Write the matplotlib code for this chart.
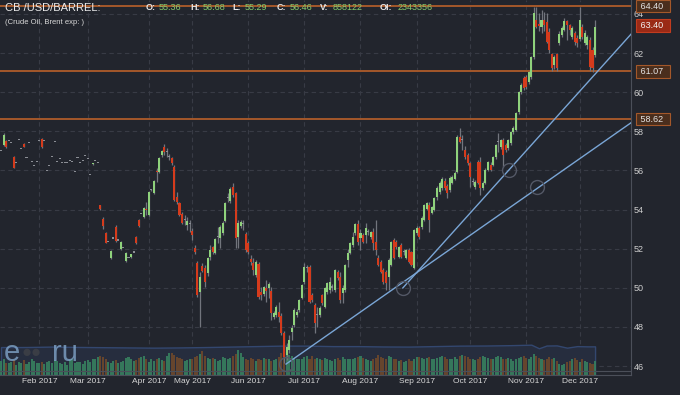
import matplotlib
matplotlib.use('Agg')
import matplotlib.pyplot as plt
import numpy as np

plt.rcParams['font.family'] = ['Liberation Sans', 'DejaVu Sans']

# daily candles, Jan..Dec 2017
opens = [
    56.99, 57.30, 57.50, 57.50, 57.40, 56.69, 56.38, 57.55, 57.09, 57.35,
    56.63, 57.40, 56.43, 56.22, 56.43, 57.50, 57.60, 57.50, 55.97, 56.22,
    56.69, 57.45, 56.43, 56.58, 56.38, 56.38, 56.38, 56.48, 56.43, 55.92,
    56.63, 56.38, 56.48, 56.74, 56.58, 55.76, 56.33, 56.48, 56.38, 54.23,
    53.50, 52.80, 52.34, 51.50, 52.50, 53.10, 52.40, 52.00, 52.03, 51.35,
    51.50, 51.55, 51.80, 52.60, 53.45, 53.75, 53.60, 54.00, 53.70, 55.00,
    54.85, 55.95, 55.92, 56.79, 57.20, 56.94, 56.69, 56.63, 56.17, 54.64,
    54.33, 53.77, 53.46, 53.21, 53.26, 52.90, 52.03, 51.27, 49.78, 51.11,
    51.00, 50.76, 51.57, 52.08, 51.78, 52.60, 52.54, 52.80, 53.41, 54.59,
    54.43, 55.15, 54.84, 52.60, 53.16, 53.26, 52.75, 52.29, 51.47, 51.27,
    50.65, 51.22, 49.78, 49.68, 49.99, 49.99, 49.83, 48.50, 48.61, 48.76,
    48.56, 47.69, 46.56, 46.82, 47.74, 48.10, 48.61, 48.86, 49.48, 50.29,
    51.00, 51.06, 49.63, 49.12, 48.61, 48.61, 49.63, 49.02, 49.78, 49.89,
    50.00, 49.89, 50.81, 50.55, 49.73, 49.89, 51.42, 51.78, 52.19, 52.80,
    53.26, 52.54, 52.70, 52.70, 52.85, 52.60, 52.85, 52.34, 51.52, 51.32,
    50.91, 50.81, 50.55, 51.16, 52.44, 52.34, 51.57, 52.19, 51.83, 51.52,
    51.93, 51.83, 51.00, 52.80, 53.05, 53.10, 53.46, 54.03, 54.23, 53.82,
    53.98, 54.64, 54.89, 55.10, 55.46, 55.20, 55.00, 55.36, 55.56, 55.92,
    57.71, 57.55, 57.04, 56.79, 56.38, 55.41, 55.15, 56.43, 56.43, 55.10,
    55.36, 56.02, 56.28, 56.28, 56.69, 57.45, 57.20, 57.55, 57.30, 57.15,
    57.40, 57.96, 58.07, 58.99, 60.01, 60.72, 60.78, 60.52, 60.77, 61.80,
    63.69, 63.50, 63.33, 63.69, 63.59, 63.08, 61.95, 61.39, 61.95, 62.52,
    62.92, 63.18, 63.64, 63.43, 62.82, 63.03, 62.77, 62.72, 63.33, 62.52,
    62.41, 62.67, 62.16, 61.90,
]
highs = [
    56.99, 57.90, 57.55, 57.50, 57.40, 56.75, 56.38, 57.55, 57.09, 57.38,
    56.63, 57.40, 56.43, 56.22, 56.43, 57.50, 57.65, 57.50, 55.97, 56.22,
    56.69, 57.45, 56.43, 56.58, 56.38, 56.38, 56.38, 56.48, 56.43, 55.92,
    56.63, 56.38, 56.48, 56.74, 56.58, 55.76, 56.40, 56.48, 56.38, 54.25,
    53.60, 52.85, 52.34, 51.95, 52.50, 53.20, 52.40, 52.40, 52.03, 51.85,
    51.50, 51.75, 51.80, 52.65, 53.50, 53.75, 54.15, 54.40, 54.95, 55.05,
    55.50, 56.10, 56.70, 57.05, 57.35, 57.15, 56.85, 56.70, 56.25, 54.90,
    54.40, 53.85, 53.72, 53.62, 53.46, 53.05, 52.20, 51.35, 50.81, 51.25,
    51.16, 51.55, 52.19, 52.15, 52.55, 53.10, 53.21, 53.40, 54.40, 54.84,
    55.15, 55.36, 54.90, 53.46, 53.45, 53.46, 52.85, 52.40, 51.67, 51.52,
    51.40, 51.30, 50.04, 50.10, 50.40, 50.29, 50.04, 48.80, 49.10, 49.27,
    48.70, 47.80, 47.20, 47.58, 48.10, 48.95, 48.90, 49.45, 50.20, 51.27,
    51.16, 51.16, 49.75, 49.22, 49.02, 49.05, 49.70, 50.04, 50.30, 50.55,
    50.20, 50.95, 50.91, 50.81, 50.14, 51.20, 52.00, 52.35, 52.85, 53.30,
    53.46, 53.00, 52.80, 53.30, 53.00, 52.90, 53.05, 53.46, 51.65, 51.40,
    51.00, 50.90, 51.50, 52.40, 52.55, 52.45, 52.15, 52.30, 52.00, 52.00,
    52.05, 51.90, 53.00, 53.15, 53.15, 53.65, 54.30, 54.40, 54.38, 54.20,
    54.65, 55.20, 55.45, 55.65, 55.60, 55.30, 55.70, 55.75, 55.95, 57.80,
    58.17, 57.80, 57.25, 56.90, 56.45, 55.60, 55.50, 56.55, 56.69, 55.45,
    56.10, 56.50, 56.45, 56.75, 57.35, 57.91, 57.60, 57.65, 57.40, 57.60,
    58.00, 58.25, 59.00, 60.05, 60.45, 60.85, 60.90, 61.10, 61.85, 64.35,
    64.35, 64.05, 64.20, 64.10, 64.05, 63.30, 62.00, 61.90, 62.00, 63.10,
    63.40, 63.80, 63.69, 63.50, 63.40, 63.10, 62.90, 64.35, 63.50, 63.20,
    62.90, 62.80, 62.30, 63.69,
]
lows = [
    56.99, 57.25, 57.15, 57.50, 57.40, 56.10, 56.38, 57.55, 57.09, 57.18,
    56.63, 57.40, 56.43, 56.22, 56.43, 57.50, 57.15, 57.50, 55.97, 56.22,
    56.69, 57.45, 56.43, 56.58, 56.38, 56.38, 56.38, 56.48, 56.43, 55.92,
    56.63, 56.38, 56.48, 56.74, 56.58, 55.76, 56.30, 56.48, 56.38, 54.00,
    53.00, 52.28, 52.34, 51.45, 52.50, 52.35, 52.40, 51.95, 52.03, 51.30,
    51.50, 51.50, 51.80, 52.25, 53.10, 53.75, 53.55, 53.70, 53.65, 54.95,
    54.80, 55.40, 55.85, 56.70, 56.80, 56.69, 56.53, 56.30, 54.45, 54.30,
    53.65, 53.25, 53.21, 52.95, 52.85, 52.44, 51.70, 49.55, 47.99, 50.80,
    50.04, 50.60, 51.40, 51.75, 51.70, 52.29, 52.03, 52.70, 53.35, 54.40,
    54.33, 54.64, 52.03, 52.03, 53.05, 52.95, 51.83, 51.75, 51.16, 50.65,
    50.55, 49.45, 49.37, 49.60, 49.27, 49.48, 48.35, 48.40, 48.50, 48.25,
    47.60, 46.15, 46.31, 46.66, 47.33, 48.00, 48.50, 48.75, 49.40, 50.20,
    50.80, 49.22, 49.27, 47.69, 48.00, 48.50, 49.10, 48.95, 49.70, 49.75,
    49.85, 49.80, 50.40, 49.22, 49.22, 49.80, 51.06, 51.70, 52.10, 52.70,
    52.19, 51.93, 52.30, 52.29, 52.70, 52.50, 51.93, 51.67, 51.10, 50.75,
    50.20, 49.89, 49.89, 51.10, 51.45, 52.00, 51.50, 51.50, 51.65, 51.45,
    51.25, 51.10, 50.95, 52.70, 52.50, 53.00, 53.40, 53.95, 52.85, 53.75,
    53.90, 54.50, 54.80, 55.00, 55.00, 54.60, 54.90, 55.30, 55.50, 55.85,
    57.40, 57.04, 56.60, 56.30, 55.15, 55.25, 55.05, 55.30, 54.74, 55.00,
    55.30, 55.95, 55.95, 56.20, 56.60, 56.94, 57.10, 56.17, 56.95, 57.05,
    57.30, 57.85, 58.00, 58.90, 59.90, 60.10, 60.15, 60.40, 60.65, 61.70,
    63.28, 63.10, 63.00, 63.10, 62.50, 62.00, 61.08, 61.20, 61.08, 62.40,
    62.80, 63.10, 62.67, 62.90, 62.70, 62.40, 62.30, 62.60, 62.70, 62.40,
    62.20, 61.08, 61.05, 61.80,
]
closes = [
    56.99, 57.81, 57.20, 57.50, 57.40, 56.12, 56.38, 57.55, 57.09, 57.20,
    56.63, 57.40, 56.43, 56.22, 56.43, 57.50, 57.20, 57.50, 55.97, 56.22,
    56.69, 57.45, 56.43, 56.58, 56.38, 56.38, 56.38, 56.48, 56.43, 55.92,
    56.63, 56.38, 56.48, 56.74, 56.58, 55.76, 56.38, 56.48, 56.38, 54.03,
    53.15, 52.30, 52.34, 51.90, 52.50, 52.40, 52.40, 52.35, 52.03, 51.80,
    51.50, 51.70, 51.80, 52.30, 53.15, 53.75, 54.10, 53.98, 54.90, 55.00,
    55.46, 55.90, 56.63, 56.99, 56.94, 56.94, 56.69, 56.38, 54.49, 54.38,
    53.72, 53.31, 53.46, 53.41, 53.26, 52.70, 51.83, 49.63, 50.55, 50.86,
    50.30, 51.52, 51.93, 51.83, 52.49, 52.60, 53.10, 53.31, 54.33, 54.59,
    55.05, 54.74, 52.54, 53.31, 53.36, 53.26, 51.93, 51.83, 51.32, 50.91,
    51.32, 49.53, 49.63, 50.04, 49.83, 50.19, 48.71, 48.71, 49.02, 48.50,
    47.69, 46.46, 46.97, 47.33, 47.94, 48.86, 48.76, 49.37, 50.14, 51.06,
    51.00, 49.27, 49.37, 48.20, 48.61, 48.97, 49.22, 49.99, 50.24, 50.29,
    50.00, 50.91, 50.50, 49.37, 49.99, 51.16, 51.78, 52.29, 52.60, 53.26,
    52.34, 52.80, 52.34, 53.05, 52.85, 52.85, 52.29, 51.93, 51.16, 50.81,
    50.29, 50.24, 51.42, 52.34, 51.52, 52.08, 52.08, 51.57, 51.83, 51.93,
    51.32, 51.16, 52.95, 53.05, 52.60, 53.56, 54.23, 54.33, 53.46, 54.13,
    54.59, 55.10, 55.36, 55.56, 55.10, 54.84, 55.61, 55.66, 55.87, 57.71,
    57.45, 57.55, 56.69, 56.38, 55.66, 55.41, 55.41, 55.36, 55.10, 55.36,
    56.02, 56.43, 56.02, 56.69, 57.30, 57.45, 57.55, 56.79, 57.04, 57.55,
    57.96, 58.17, 58.94, 60.00, 60.37, 60.21, 60.27, 61.03, 61.80, 64.05,
    63.33, 63.40, 63.69, 63.43, 62.57, 62.16, 61.24, 61.80, 61.24, 62.97,
    63.28, 63.64, 63.43, 63.18, 63.28, 62.57, 62.52, 63.69, 62.82, 63.03,
    62.82, 61.29, 61.24, 63.33,
]
# volume, thousands of contracts
volumes = [
    380, 420, 330, 310, 350, 400, 280, 360, 330, 390,
    300, 350, 420, 380, 320, 330, 360, 300, 340, 380,
    320, 410, 380, 330, 300, 350, 280, 390, 420, 330,
    360, 340, 300, 380, 400, 350, 420, 440, 470, 500,
    480, 420, 360, 330, 380, 400, 320, 350, 380, 460,
    490, 420, 380, 400, 450, 480, 500, 420, 360, 430,
    380, 420, 460, 400, 380, 520, 580, 600, 540, 480,
    450, 420, 380, 400, 430, 420, 480, 500, 560, 650,
    500, 450, 420, 460, 420, 380, 400, 480, 450, 420,
    460, 520, 560, 660, 600, 480, 430, 400, 450, 420,
    380, 420, 400, 460, 430, 420, 380, 400, 440, 480,
    600, 680, 620, 540, 500, 460, 430, 420, 440, 480,
    520, 440, 500, 420, 450, 420, 400, 460, 440, 400,
    380, 420, 460, 400, 480, 420, 440, 430, 420, 460,
    480, 520, 460, 420, 400, 380, 420, 450, 540, 480,
    460, 420, 500, 480, 440, 420, 380, 400, 360, 380,
    420, 380, 440, 470, 480, 460, 420, 460, 480, 440,
    420, 460, 480, 500, 470, 430, 420, 440, 470, 420,
    500, 540, 520, 470, 440, 420, 400, 430, 480, 520,
    480, 460, 440, 420, 480, 500, 470, 440, 420, 460,
    420, 380, 440, 460, 480, 520, 460, 440, 480, 560,
    500, 460, 420, 400, 440, 480, 420, 460, 380, 300,
    260, 300, 340, 380, 420, 460, 400, 360, 420, 380,
    340, 320, 300, 380,
]
# open interest, thousands
oi_pos = [0, 10, 20, 30, 40, 50, 60, 70, 80, 90, 100, 110, 120, 130, 140,
          150, 160, 170, 180, 190, 200, 208, 211, 214, 218, 222, 226, 230, 233]
oi_vals = [2340, 2345, 2380, 2350, 2330, 2310, 2290, 2310, 2340, 2380, 2420, 2460, 2460, 2420, 2420,
           2390, 2380, 2420, 2460, 2470, 2500, 2540, 2240, 2470, 2480, 2290, 2420, 2400, 2400]

month_pos = [15, 34, 58, 75, 97, 119, 141, 163, 184, 206, 227]
month_labels = ['Feb 2017', 'Mar 2017', 'Apr 2017', 'May 2017', 'Jun 2017', 'Jul 2017',
                'Aug 2017', 'Sep 2017', 'Oct 2017', 'Nov 2017', 'Dec 2017']
price_ticks = [46, 48, 50, 52, 54, 56, 58, 60, 62, 64]

levels = [64.40, 61.07, 58.62]
last_price = 63.40

trend_a_x = [157.6, 247.5]
trend_a_y = [49.99, 63.02]
trend_b_x = [111.8, 247.5]
trend_b_y = [46.10, 58.47]
circle_x = [111.8, 157.6, 199.2, 210.2]
circle_y = [46.10, 49.99, 56.02, 55.15]

header_keys = ['O:', 'H:', 'L:', 'C:', 'V:', 'OI:']
header_vals = ['55.36', '56.68', '55.29', '56.46', '858122', '2343356']

bg = '#22252d'
up_col = '#8fd27c'
down_col = '#d53b1c'
flat_col = '#8b8e95'
wick_col = '#72757d'
grid_col = '#383b45'
level_col = '#a4582a'
text_col = '#cfcfcf'

W, H = 680, 395


def fx(px):
    return px / W


def fy(py):
    return 1 - py / H


fig = plt.figure(figsize=(6.8, 3.95), dpi=100, facecolor=bg)
ax = fig.add_axes([0, 20 / H, 631 / W, 375 / H], facecolor=bg)

x = np.arange(len(closes))
o = np.array(opens)
c = np.array(closes)
bodies_bottom = np.minimum(o, c)
bodies_h = np.maximum(np.abs(c - o), 0.07)
body_cols = [up_col if cc > oo else (down_col if cc < oo else flat_col) for oo, cc in zip(o, c)]

ax.set_xlim(-0.4, 247.1)
ax.set_ylim(45.54, 64.71)

ax.vlines(x, lows, highs, color=wick_col, lw=0.9, zorder=3)
ax.bar(x, bodies_h, bottom=bodies_bottom, width=0.8, color=body_cols, linewidth=0, zorder=4)

# volume + open interest panel
ax_oi = ax.inset_axes([0, 0, 1, 45 / 375])
ax_oi.set_xlim(ax.get_xlim())
ax_oi.set_ylim(0, 3770)
ax_oi.fill_between(oi_pos, oi_vals, facecolor='#262d3e', edgecolor='#33476f', lw=1)
ax_oi.axis('off')
ax_oi.set_zorder(0.6)

vol_cols = ['#37805f' if cc >= oo else '#6e482c' for oo, cc in zip(o, c)]
ax_vol = ax.inset_axes([0, 0, 1, 45 / 375])
ax_vol.set_xlim(ax.get_xlim())
ax_vol.set_ylim(0, 1200)
ax_vol.bar(x, volumes, width=0.8, color=vol_cols, alpha=0.9, linewidth=0)
ax_vol.axis('off')
ax_vol.set_zorder(0.7)

# levels and trendlines
for lv in levels:
    ax.axhline(lv, color=level_col, lw=1.4, zorder=2.5)
    ax.text(1.011, lv, f' {lv:.2f}  ', transform=ax.get_yaxis_transform(), ha='left', va='center',
            fontsize=6.5, color='#e4e4e4', clip_on=False,
            bbox=dict(boxstyle='square,pad=0.2', fc='#4a2e1d', ec=level_col, lw=0.8))
ax.text(1.011, last_price, f' {last_price:.2f}  ', transform=ax.get_yaxis_transform(), ha='left',
        va='center', fontsize=6.5, color='#f2f2f2', clip_on=False,
        bbox=dict(boxstyle='square,pad=0.2', fc='#9a2a16', ec='#c23c1f', lw=0.8))

ax.plot(trend_a_x, trend_a_y, color='#7aa6d6', lw=1, zorder=5)
ax.plot(trend_b_x, trend_b_y, color='#7aa6d6', lw=1, zorder=5)
ax.plot(circle_x, circle_y, 'o', ms=10, mfc='none', mec='#535866', mew=1, zorder=5)

ax.axhline(45.76, color='#4b4f59', lw=0.8, zorder=2)

# axes styling
ax.set_yticks(price_ticks)
ax.set_yticklabels([str(t) for t in price_ticks])
ax.set_xticks(month_pos)
ax.set_xticklabels(month_labels)
ax.set_axisbelow(True)
ax.grid(True, color=grid_col, ls=(0, (4, 3)), lw=0.8)
ax.yaxis.tick_right()
ax.tick_params(axis='y', length=0, pad=2, labelsize=6.5, colors=text_col)
ax.tick_params(axis='x', length=0, pad=2, labelsize=6, colors='#d6d6d6')
for s in ['top', 'left']:
    ax.spines[s].set_visible(False)
for s in ['right', 'bottom']:
    ax.spines[s].set_color('#4b4f59')
    ax.spines[s].set_linewidth(0.8)

# header
fig.text(fx(5), fy(8), 'CB /USD/BARREL:', fontsize=8, color='#ececec', va='center')
fig.text(fx(5), fy(22), '(Crude Oil, Brent exp: )', fontsize=5.5, color='#d8d8d8', va='center')
key_x = [146, 190, 232, 277, 320, 380]
for kx, k, v in zip(key_x, header_keys, header_vals):
    fig.text(fx(kx), fy(8), k, fontsize=6.5, color='#e8e8e8', va='center', fontweight='bold')
    fig.text(fx(kx + 4 + 4.5 * len(k)), fy(8), v, fontsize=6.5, color='#86cc6c', va='center')

# watermark
fig.text(fx(4), fy(361), 'e', fontsize=21, color='#86acd2', alpha=0.75, va='baseline')
fig.text(fx(22), fy(357), '\u25cf\u25cf', fontsize=12, color='#3a3d45', va='baseline')
fig.text(fx(52), fy(361), 'ru', fontsize=21, color='#86acd2', alpha=0.75, va='baseline')

fig.savefig('out.png', dpi=100, facecolor=bg)
